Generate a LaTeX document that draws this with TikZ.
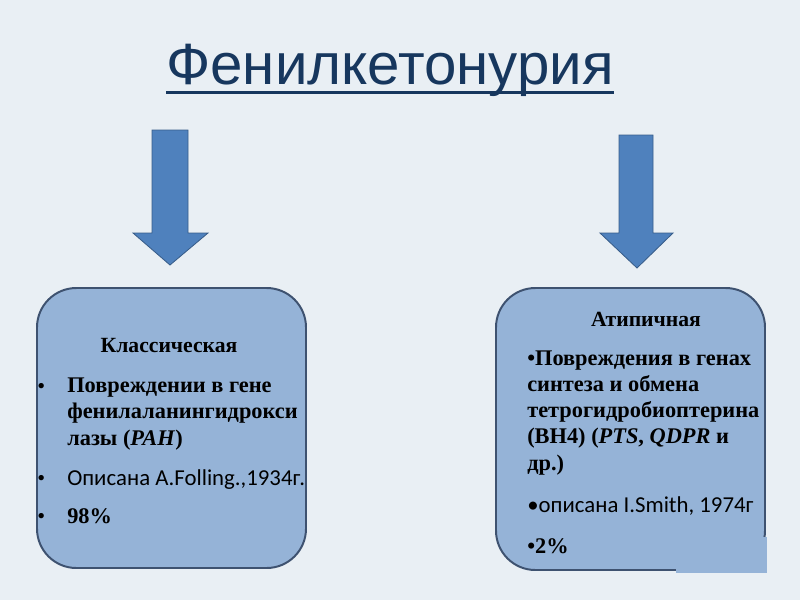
\documentclass[tikz,border=0pt]{standalone}
\usepackage{fontspec}
\setmainfont{Liberation Serif}
\newfontfamily\titlefont{Liberation Sans}
\newfontfamily\calfont{Carlito}
\usetikzlibrary{positioning}
\definecolor{slidebg}{RGB}{233,239,244}
\definecolor{titleblue}{RGB}{23,55,94}
\definecolor{arrowfill}{RGB}{79,129,189}
\definecolor{arrowline}{RGB}{56,93,138}
\definecolor{boxfill}{RGB}{149,179,215}
\definecolor{boxline}{RGB}{62,82,112}

\tikzset{
  typebox/.style={draw=boxline, line width=1.4pt, fill=boxfill, rounded corners=28pt},
  downarrow/.style={fill=arrowfill, draw=arrowline, line width=0.6pt},
  headtext/.style={inner sep=0pt, anchor=base, font=\fontsize{15.4pt}{18.5pt}\selectfont\bfseries},
  boldtext/.style={inner sep=0pt, anchor=base west, align=left, font=\fontsize{15.9pt}{18.5pt}\selectfont\bfseries},
  sanstext/.style={inner sep=0pt, anchor=base west, font=\fontsize{16.2pt}{18.5pt}\selectfont\calfont},
  dot/.style={inner sep=0pt, anchor=base west, font=\fontsize{15.9pt}{18.5pt}\selectfont}
}

\begin{document}
\begin{tikzpicture}[x=0.025cm, y=-0.025cm]
    \fill[slidebg] (0,0) rectangle (800,600);
    \useasboundingbox (0,0) rectangle (800,600);

    % title
    \node[inner sep=0pt, anchor=base, text=titleblue, font=\fontsize{41.4pt}{46pt}\selectfont\titlefont] (title) at (390,84) {Фенилкетонурия};
    \draw[titleblue, line width=2.1pt] ([yshift=-6pt]title.base west) -- ([yshift=-6pt]title.base east);

    % arrows
    \draw[downarrow] (152,130) -- (188,130) -- (188,233) -- (208,233) -- (170,265) -- (133,233) -- (152,233) -- cycle;
    \draw[downarrow] (619,135) -- (653,135) -- (653,233) -- (673,233) -- (637,268) -- (600,233) -- (619,233) -- cycle;

    % boxes
    \draw[typebox] (37,288) rectangle (306,568);
    \draw[typebox] (496,288) rectangle (765,570);
    \fill[boxfill] (676,537) rectangle (766.5,572.5);

    % left: classic (multi-line nodes sit on their last baseline)
    \node[headtext] (classic) at (169,352) {Классическая};
    \node[dot] (cb1) at (37,393) {•};
    \node[boldtext] (cl1) at (67,445) {Повреждении в гене\\фенилаланингидрокси\\лазы (\textit{PAH})};
    \node[dot] (cb2) at (37,485) {•};
    \node[sanstext] (cl2) at (67,485) {Описана A.Folling.,1934г.};
    \node[dot] (cb3) at (37,523) {•};
    \node[boldtext] (cl3) at (67,523) {98\%};

    % right: atypical
    \node[headtext] (atyp) at (646,326) {Атипичная};
    \node[boldtext] (at1) at (527,470) {•Повреждения в генах\\синтеза и обмена\\тетрогидробиоптерина\\(ВН4) (\textit{PTS}, \textit{QDPR} и\\др.)};
    \node[sanstext] (at2) at (527,512) {•описана I.Smith, 1974г};
    \node[boldtext] (at3) at (527,553) {•2\%};
\end{tikzpicture}
\end{document}
